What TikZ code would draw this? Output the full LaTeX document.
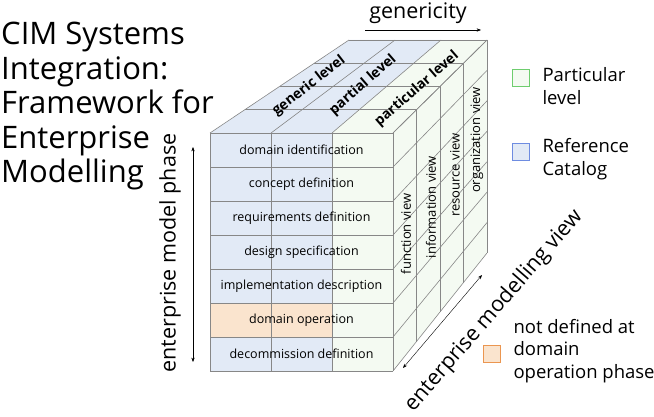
\documentclass[tikz,border=0pt]{standalone}
\usepackage{fontspec}
\setmainfont{Open Sans}
\usetikzlibrary{arrows.meta,positioning}
\definecolor{refblue}{RGB}{226,234,246}
\definecolor{notdef}{RGB}{250,228,206}
\definecolor{partgreen}{RGB}{244,250,242}
\definecolor{gridgray}{RGB}{135,135,135}
\definecolor{legblue}{RGB}{110,140,225}
\definecolor{leggreen}{RGB}{110,205,110}
\definecolor{legorange}{RGB}{235,150,80}

\begin{document}
\begin{tikzpicture}[x=1pt,y=-1pt,
                    >={Stealth[scale=0.9]},
                    grid/.style={draw=gridgray,line width=0.6pt},
                    phase/.style={font=\fontsize{12.5}{14}\selectfont},
                    level/.style={font=\fontsize{14}{15}\selectfont\bfseries},
                    view/.style={font=\fontsize{13}{15}\selectfont,rotate=90},
                    axis/.style={font=\fontsize{21.5}{24}\selectfont},
                    legbox/.style={minimum size=17pt,inner sep=0pt,line width=1pt},
                    legtext/.style={font=\fontsize{18.5}{22.5}\selectfont,align=left,anchor=west}]
\useasboundingbox (0,0) rectangle (654,417);

% faces of the cube
\fill[refblue] (210,133) rectangle (332,371);
\fill[notdef] (210,303) rectangle (332,337);
\fill[partgreen] (332,133) rectangle (393,371);
\fill[refblue] (210,133) -- (332,133) -- (441,40) -- (349,40) -- cycle;
\fill[partgreen] (332,133) -- (393,133) -- (487,40) -- (441,40) -- cycle;
\fill[partgreen] (393,133) -- (487,40) -- (487,253) -- (393,371) -- cycle;

% front grid
\foreach \r in {0,...,7}
  \draw[grid] (210,133+34*\r) -- (393,133+34*\r);
\foreach \c in {0,...,3}
  \draw[grid] (210+61*\c,133) -- (210+61*\c,371);
% top grid
\foreach \c in {0,...,3}
  \draw[grid] (210+61*\c,133) -- (349+46*\c,40);
\foreach \t in {0.25,0.5,0.75,1}
  \draw[grid] (210+139*\t,133-93*\t) -- (393+94*\t,133-93*\t);
% side grid
\foreach \r in {0,...,7}
  \draw[grid] (393,133+34*\r) -- (487,40+30.43*\r);
\foreach \t in {0.25,0.5,0.75,1}
  \draw[grid] (393+94*\t,133-93*\t) -- (393+94*\t,371-118*\t);

% phases
\foreach \txt [count=\i] in {domain identification,concept definition,
    requirements definition,design specification,
    implementation description,domain operation,decommission definition}
  \node[phase] (phase\i) at (301.5,116+34*\i) {\txt};

% levels
\node[level,rotate=38] (generic)    at (309,86) {generic level};
\node[level,rotate=41] (partial)    at (363,85) {partial level};
\node[level,rotate=41] (particular) at (417,89) {particular level};

% views
\node[view] (function)     at (406,234) {function view};
\node[view] (information)  at (431,207) {information view};
\node[view] (resource)     at (455,175) {resource view};
\node[view] (organization) at (477,140) {organization view};

% axes
\coordinate (gen-a) at (365,30);
\coordinate (gen-b) at (481,30);
\draw[->] (gen-a) -- (gen-b);
\node[axis] (genericity) at (418,13) {genericity};

\coordinate (ph-a) at (193,362);
\coordinate (ph-b) at (193,147);
\draw[<->] (ph-a) -- (ph-b);
\node[axis,rotate=90] (phaseaxis) at (170,253) {enterprise model phase};

\coordinate (vw-a) at (403,368);
\coordinate (vw-b) at (482,275);
\draw[<->] (vw-a) -- (vw-b);
\node[axis,rotate=49] (viewaxis) at (494,311) {enterprise modelling view};

% title
\node[anchor=north west,align=left,inner sep=0pt,
      font=\fontsize{31}{34.5}\selectfont] (title) at (1,22)
  {CIM Systems\\Integration:\\Framework for\\Enterprise\\Modelling};

% legend
\node[legbox,draw=leggreen,fill=partgreen] (partbox) at (521,78) {};
\node[legtext] (parttext) at (539,86) {Particular\\level};
\node[legbox,draw=legblue,fill=refblue] (refbox) at (521,152) {};
\node[legtext] (reftext) at (539,159) {Reference\\Catalog};
\node[legbox,draw=legorange,fill=notdef] (notbox) at (492,354) {};
\node[legtext] (nottext) at (510,351) {not defined at\\domain\\operation phase};
\end{tikzpicture}
\end{document}
